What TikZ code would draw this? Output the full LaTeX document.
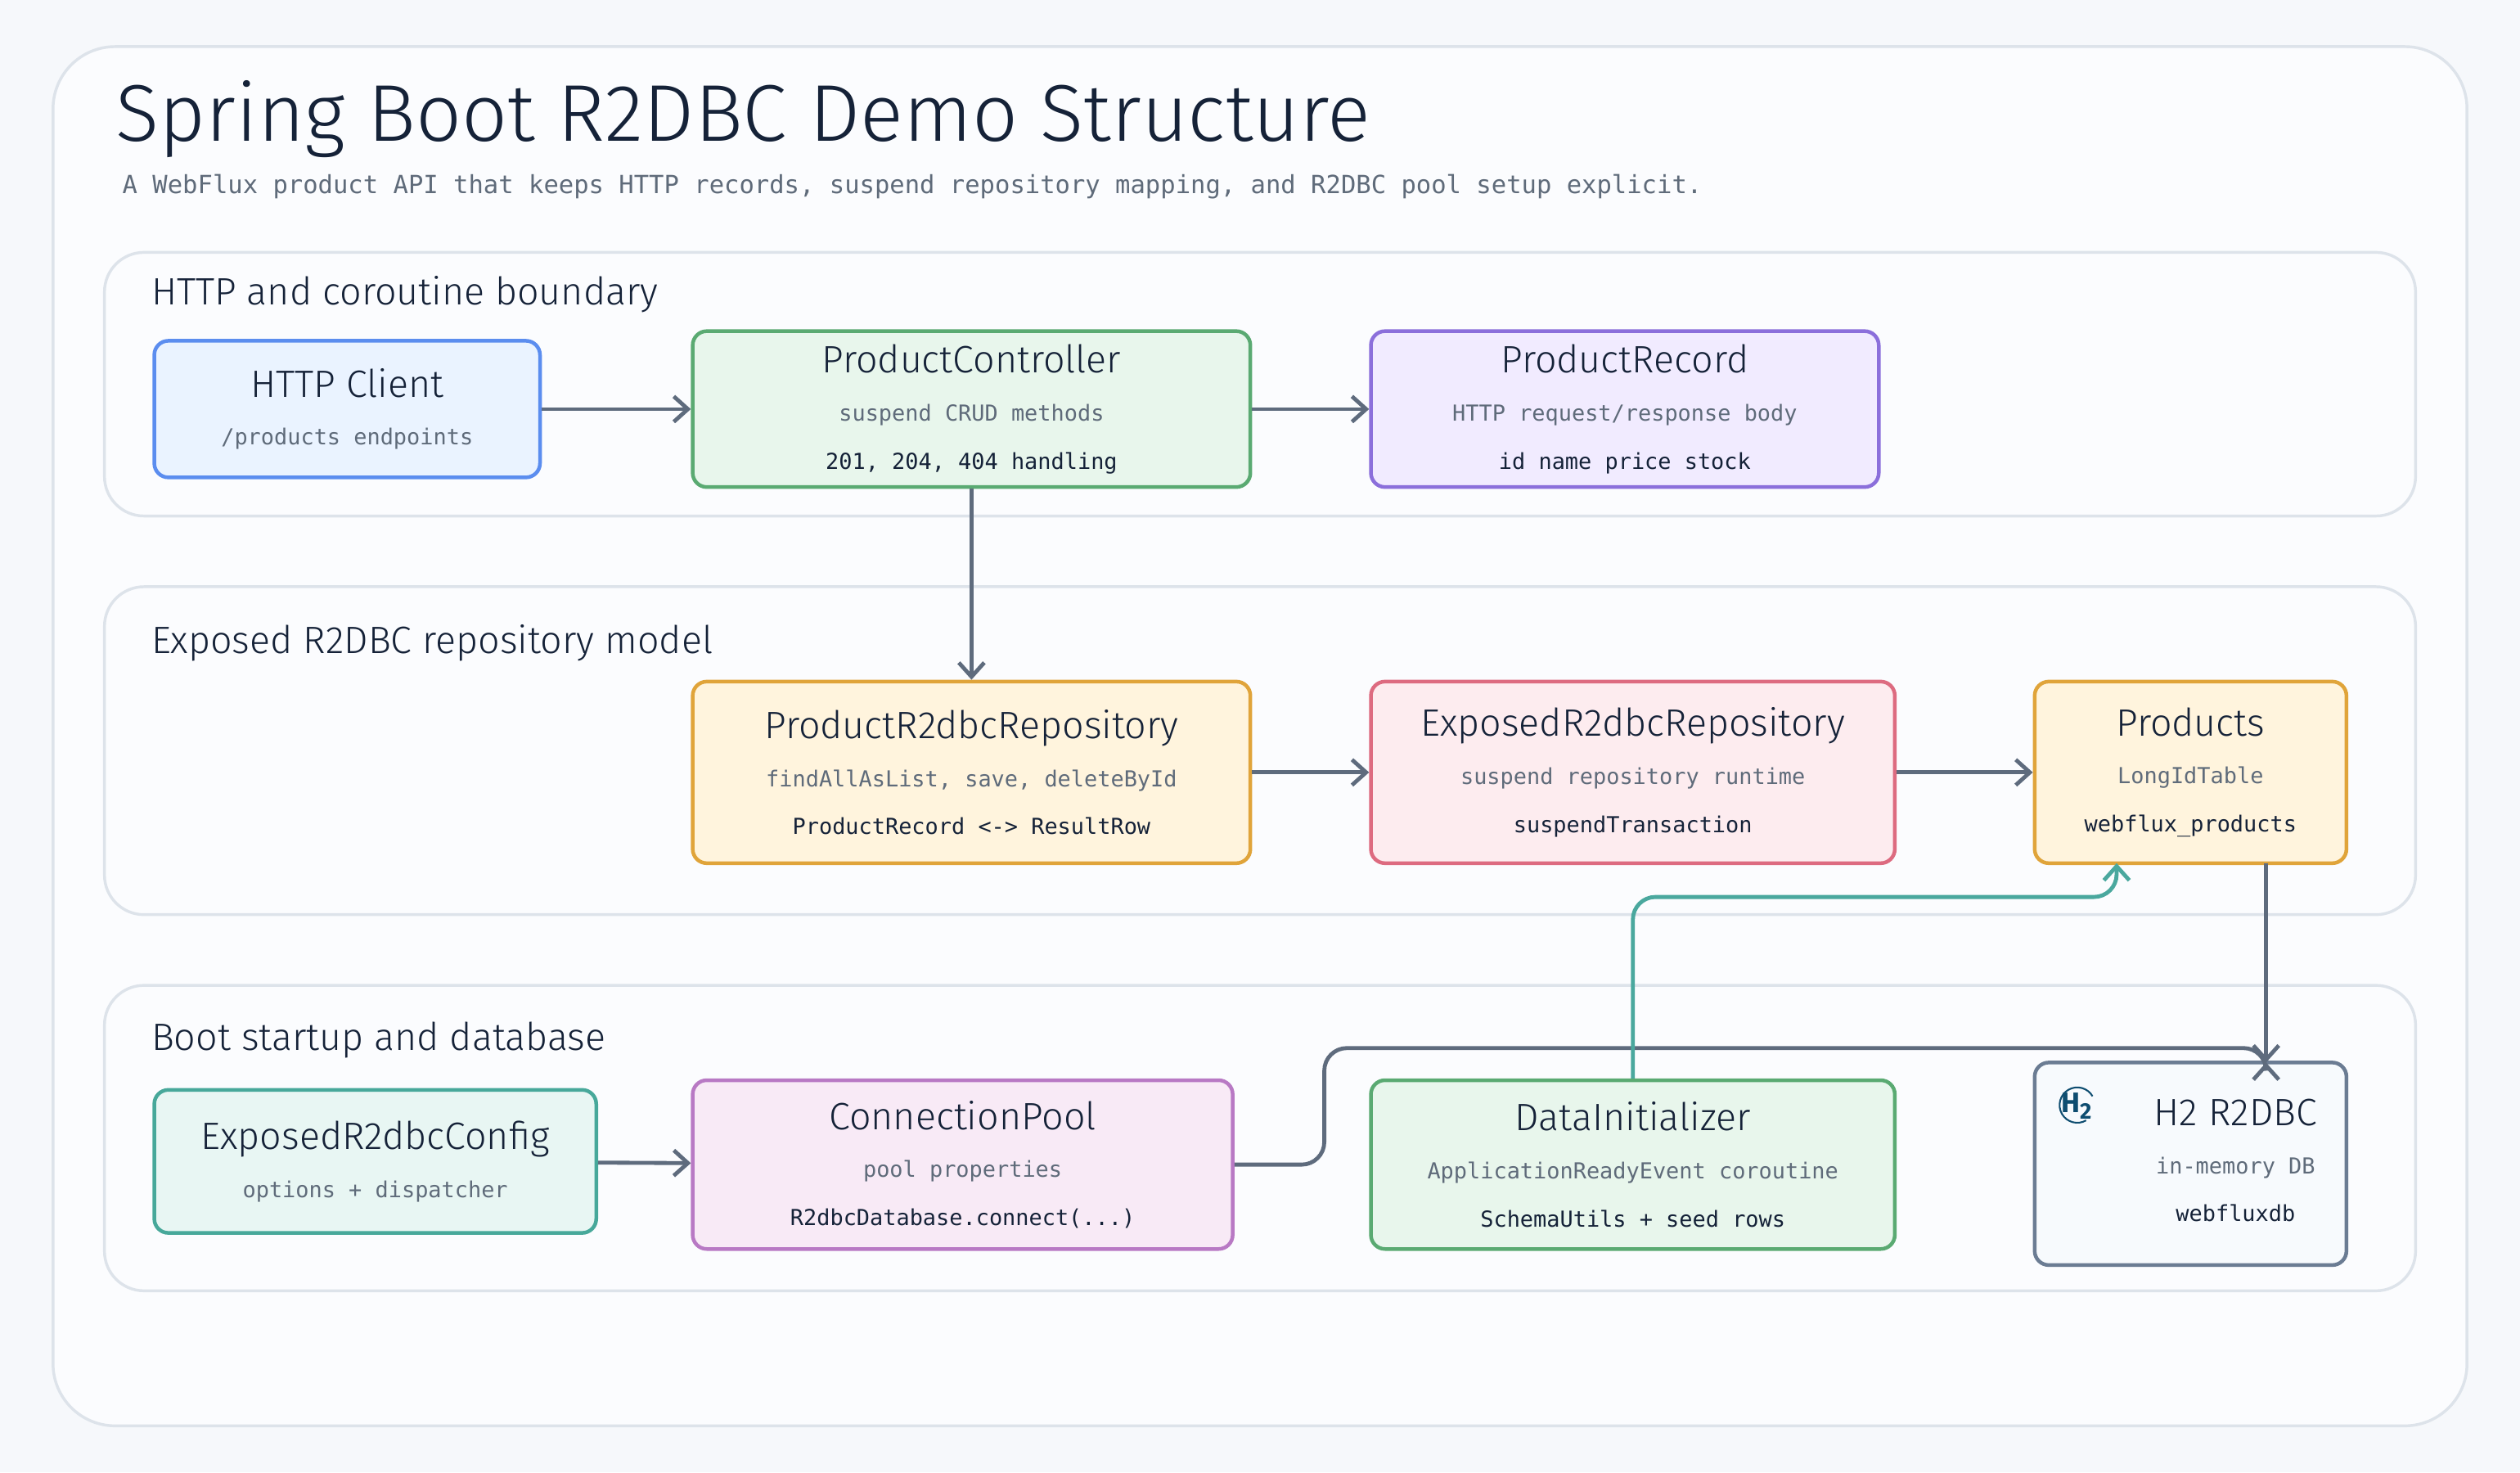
\documentclass[tikz,border=0pt]{standalone}
\usepackage{fontspec}
\setmainfont{Fira Sans}
\newfontfamily\hand{Fira Sans Light}
\newfontfamily\mono{DejaVu Sans Mono}
\usetikzlibrary{arrows.meta}
\definecolor{bg}{HTML}{F6F8FB}
\definecolor{panel}{HTML}{FBFCFE}
\definecolor{panelline}{HTML}{DDE3EA}
\definecolor{ink}{HTML}{152238}
\definecolor{sub}{HTML}{5F6B7A}
\definecolor{arr}{HTML}{5E6B7D}
\definecolor{tealarr}{HTML}{4AA89E}
\definecolor{bluef}{HTML}{EAF3FF}\definecolor{bluel}{HTML}{5B8DEF}
\definecolor{greenf}{HTML}{E8F6EC}\definecolor{greenl}{HTML}{5AAA72}
\definecolor{purf}{HTML}{F1EBFF}\definecolor{purl}{HTML}{8B6FDB}
\definecolor{yelf}{HTML}{FFF4DD}\definecolor{yell}{HTML}{E0A43A}
\definecolor{redf}{HTML}{FDECEF}\definecolor{redl}{HTML}{DD6B80}
\definecolor{tealf}{HTML}{E8F6F3}\definecolor{teall}{HTML}{47A89A}
\definecolor{pinkf}{HTML}{F8EAF6}\definecolor{pinkl}{HTML}{B879C4}
\definecolor{slatef}{HTML}{F7FAFD}\definecolor{slatel}{HTML}{6B7C93}
\definecolor{htwo}{HTML}{0E4D70}
\tikzset{
  box/.style={draw, line width=1.3pt, rounded corners=5pt, align=center, text=ink, inner sep=0pt},
  sect/.style={draw=panelline, fill=panel, line width=1pt, rounded corners=14pt},
  conn/.style={draw=arr, line width=1.4pt, -{Straight Barb[length=5pt,width=9pt]}},
  stl/.style={font=\hand\fontsize{13.5}{15}\selectfont, text=ink, anchor=west},
}
\newcommand{\bx}[3]{{\hand\fontsize{13.5}{16}\selectfont #1}\\[5pt]{\mono\fontsize{7.8}{10}\selectfont\color{sub}#2}\\[5pt]{\mono\fontsize{7.8}{10}\selectfont #3}}
\newcommand{\bxx}[2]{{\hand\fontsize{13.5}{16}\selectfont #1}\\[5pt]{\mono\fontsize{7.8}{10}\selectfont\color{sub}#2}}
\begin{document}
\begin{tikzpicture}[x=0.02cm,y=-0.02cm]
\useasboundingbox (0,0) rectangle (1568,916);
\fill[bg] (0,0) rectangle (1568,916);
\draw[panelline, fill=panel, line width=1pt, rounded corners=22pt] (33,29) rectangle (1535,887);
\node[anchor=west, text=ink, font=\hand\fontsize{28.5}{31}\selectfont] (title) at (66,74) {Spring Boot R2DBC Demo Structure};
\node[anchor=west, text=sub, font=\mono\fontsize{8.85}{10}\selectfont] (subtitle) at (70,116) {A WebFlux product API that keeps HTTP records, suspend repository mapping, and R2DBC pool setup explicit.};
\draw[sect] (65,157) rectangle (1503,321);
\draw[sect] (65,365) rectangle (1503,569);
\draw[sect] (65,613) rectangle (1503,803);
\node[stl] (s1) at (88,183) {HTTP and coroutine boundary};
\node[stl] (s2) at (88,400) {Exposed R2DBC repository model};
\node[stl] (s3) at (88,647) {Boot startup and database};

\node[box, fill=bluef, draw=bluel, minimum width=240*0.02cm, minimum height=85*0.02cm] (client) at (216,254.5)
  {\bxx{HTTP Client}{/products endpoints}};
\node[box, fill=greenf, draw=greenl, minimum width=347*0.02cm, minimum height=97*0.02cm] (ctrl) at (604.5,254.5)
  {\bx{ProductController}{suspend CRUD methods}{201, 204, 404 handling}};
\node[box, fill=purf, draw=purl, minimum width=316*0.02cm, minimum height=97*0.02cm] (rec) at (1011,254.5)
  {\bx{ProductRecord}{HTTP request/response body}{id name price stock}};
\node[box, fill=yelf, draw=yell, minimum width=347*0.02cm, minimum height=113*0.02cm] (prepo) at (604.5,480.5)
  {\bx{ProductR2dbcRepository}{findAllAsList, save, deleteById}{ProductRecord <-> ResultRow}};
\node[box, fill=redf, draw=redl, minimum width=326*0.02cm, minimum height=113*0.02cm] (erepo) at (1016,480.5)
  {\bx{ExposedR2dbcRepository}{suspend repository runtime}{suspendTransaction}};
\node[box, fill=yelf, draw=yell, minimum width=194*0.02cm, minimum height=113*0.02cm] (prod) at (1363,480.5)
  {\bx{Products}{LongIdTable}{webflux\_products}};
\node[box, fill=tealf, draw=teall, minimum width=275*0.02cm, minimum height=89*0.02cm] (cfg) at (233.5,722.5)
  {\bxx{ExposedR2dbcConfig}{options + dispatcher}};
\node[box, fill=pinkf, draw=pinkl, minimum width=336*0.02cm, minimum height=105*0.02cm] (pool) at (599,724.5)
  {\bx{ConnectionPool}{pool properties}{R2dbcDatabase.connect(...)}};
\node[box, fill=greenf, draw=greenl, minimum width=326*0.02cm, minimum height=105*0.02cm] (init) at (1016,724.5)
  {\bx{DataInitializer}{ApplicationReadyEvent coroutine}{SchemaUtils + seed rows}};
\node[box, fill=slatef, draw=slatel, minimum width=194*0.02cm, minimum height=126*0.02cm] (h2) at (1363,724) {};
\node[text=ink, align=center] (h2t) at (1391,722) {\bx{H2 R2DBC}{in-memory DB}{webfluxdb}};
\draw[htwo, line width=0.6pt] (1298,697) arc (60:330:11);
\node[text=htwo, font=\bfseries\fontsize{10}{10}\selectfont, inner sep=0pt] (h2icon) at (1292,688) {H\raisebox{-2.5pt}{\fontsize{8}{8}\selectfont 2}};

\draw[conn] (client) -- (ctrl);
\draw[conn] (ctrl) -- (rec);
\draw[conn] (ctrl) -- (prepo);
\draw[conn] (prepo) -- (erepo);
\draw[conn] (erepo) -- (prod);
\draw[conn] (cfg) -- (pool);
\coordinate (pb) at (1410,537);
\coordinate (ht) at (1410,661);
\coordinate (pt) at (1317,537);
\draw[conn] (pb) -- (ht);
\draw[conn, rounded corners=8pt] (pool.east) -- (824,724.5) -- (824,652) -- (1410,652) -- (ht);
\draw[conn, draw=tealarr, rounded corners=8pt] (init.north) -- (1016,558) -- (1317,558) -- (pt);
\end{tikzpicture}
\end{document}
